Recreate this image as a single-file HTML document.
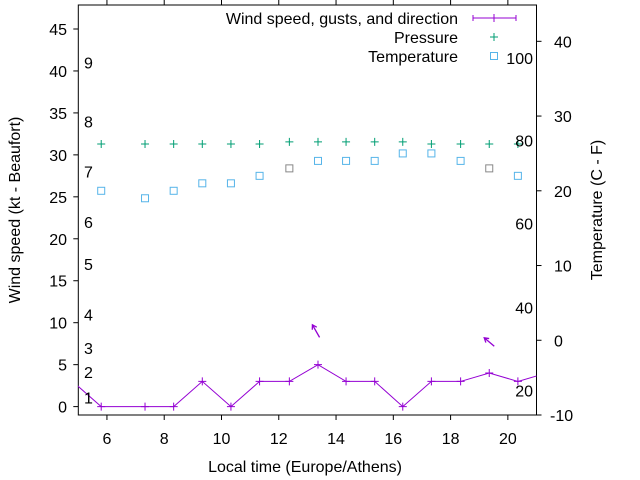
<!DOCTYPE html>
<html><head><meta charset="utf-8"><style>
body{margin:0;background:#fff}
svg{display:block;font-family:"Liberation Sans",sans-serif;font-size:16px}
</style></head><body>
<svg id="chart" width="640" height="480" viewBox="0 0 640 480" xmlns="http://www.w3.org/2000/svg">
<defs><clipPath id="pc"><rect x="78" y="5" width="458.5" height="410"/></clipPath></defs>
<g id="axes"></g>
<g id="marks" clip-path="url(#pc)"></g>
<g id="labels"></g>
</svg>
<script>
const times = [5.8, 7.33, 8.33, 9.33, 10.33, 11.33, 12.37, 13.37, 14.35, 15.35, 16.33, 17.33, 18.35, 19.35, 20.35];
const windSpeed = [0, 0, 0, 3, 0, 3, 3, 5, 3, 3, 0, 3, 3, 4, 3];
const windPrev = [4.8, 3];
const windNext = [21.35, 4];
const pressure = [31.3, 31.3, 31.3, 31.3, 31.3, 31.3, 31.55, 31.55, 31.55, 31.55, 31.55, 31.3, 31.3, 31.3, 31.3];
const temperature = [20, 19, 20, 21, 21, 22, 23, 24, 24, 24, 25, 25, 24, 23, 22];
const tempGray = [false, false, false, false, false, false, true, false, false, false, false, false, false, true, false];
const arrowX = [13.3, 19.35];
const arrowY = [9, 7.7];
const arrowDx = [-0.25, -0.35];
const arrowDy = [1.5, 1.0];
const xTicks = [6, 8, 10, 12, 14, 16, 18, 20];
const yTicks = [0, 5, 10, 15, 20, 25, 30, 35, 40, 45];
const y2Ticks = [-10, 0, 10, 20, 30, 40];
const beaufort = ["1","2","3","4","5","6","7","8","9"];
const beaufortY = [1.1, 4.1, 7, 11, 17, 22, 28, 34, 41];
const fahrenheit = ["20","40","60","80","100"];
const fahrenheitC = [-6.7, 4.4, 15.6, 26.7, 37.8];

const L=78.3, R=536.5, T=5, B=415;
const X = v => L + (v-5)*(R-L)/16;
const Y = v => B - (v+1)*(B-T)/48.86;
const Y2 = v => B - (v+10)*(B-T)/54.86;
const NS="http://www.w3.org/2000/svg";
function mk(tag, attrs, parent, text){
  const e=document.createElementNS(NS,tag);
  for(const k in attrs) e.setAttribute(k,attrs[k]);
  if(text!==undefined) e.textContent=text;
  parent.appendChild(e); return e;
}
const ax=document.getElementById('axes'), mg=document.getElementById('marks'), lb=document.getElementById('labels');

let el=mk('rect',{x:L,y:T,width:R-L,height:B-T,fill:'none',stroke:'#000','stroke-width':1},ax);



xTicks.forEach(t=>{
  let l=mk('line',{x1:X(t),x2:X(t),y1:B,y2:B+5,stroke:'#000'},ax);
  
  
  let l2=mk('line',{x1:X(t),x2:X(t),y1:T,y2:T-5,stroke:'#000'},ax);
  
  
  let tx=mk('text',{x:X(t),y:444,'text-anchor':'middle'},lb,String(t));
  
  
});
yTicks.forEach(t=>{
  let l=mk('line',{x1:L-5,x2:L,y1:Y(t),y2:Y(t),stroke:'#000'},ax);
  
  
  let tx=mk('text',{x:67,y:Y(t)+6,'text-anchor':'end'},lb,String(t));
  
  
});
y2Ticks.forEach(t=>{
  let l=mk('line',{x1:R,x2:R+5,y1:Y2(t),y2:Y2(t),stroke:'#000'},ax);
  
  
  let tx=mk('text',{x:t<0?550:554,y:Y2(t)+6},lb,String(t));
  
  
});
beaufort.forEach((b,i)=>{
  let tx=mk('text',{x:84,y:Y(beaufortY[i])+6},lb,b);
  
  
});
fahrenheit.forEach((f,i)=>{
  let tx=mk('text',{x:533,y:Y2(fahrenheitC[i])+6,'text-anchor':'end'},lb,f);
  
  
});

const wx=[windPrev[0],...times,windNext[0]], wy=[windPrev[1],...windSpeed,windNext[1]];
let pl=mk('polyline',{points:wx.map((t,i)=>X(t)+','+Y(wy[i])).join(' '),fill:'none',stroke:'#9400d3','stroke-width':1},mg);


times.forEach((t,i)=>{
  const x=X(t),y=Y(windSpeed[i]);
  let p=mk('path',{d:`M${x-4},${y}H${x+4}M${x},${y-4}V${y+4}`,stroke:'#9400d3','stroke-width':1},mg);
  
  
});
arrowX.forEach((t,i)=>{
  const x0=X(t-arrowDx[i]/2), y0=Y(arrowY[i]-arrowDy[i]/2), x1=X(t+arrowDx[i]/2), y1=Y(arrowY[i]+arrowDy[i]/2);
  const a=Math.atan2(y1-y0,x1-x0), h=5;
  const d=`M${x0},${y0}L${x1},${y1}M${x1+h*Math.cos(a+2.6)},${y1+h*Math.sin(a+2.6)}L${x1},${y1}L${x1+h*Math.cos(a-2.6)},${y1+h*Math.sin(a-2.6)}`;
  let p=mk('path',{d:d,stroke:'#9400d3','stroke-width':1.3,fill:'none'},mg);
  
  
});
pressure.forEach((v,i)=>{
  const x=X(times[i]),y=Y(v);
  let p=mk('path',{d:`M${x-4},${y}H${x+4}M${x},${y-4}V${y+4}`,stroke:'#009e73','stroke-width':1},mg);
  
  
});
temperature.forEach((v,i)=>{
  const x=X(times[i]),y=Y2(v);
  let p=mk('rect',{x:x-3.5,y:y-3.5,width:7,height:7,fill:'none',stroke:tempGray[i]?'#888':'#56b4e9','stroke-width':1},mg);
  
  
});

const lg=mk('g',{},lb);


[['Wind speed, gusts, and direction',18],['Pressure',37],['Temperature',56]].forEach(([s,y])=>{
  let tx=mk('text',{x:458,y:y+6,'text-anchor':'end'},lg,s);
  
  
});
let ls=mk('path',{d:'M473,18H516M473,15V21M516,15V21M494,14V22',stroke:'#9400d3','stroke-width':1},lg);


ls=mk('path',{d:'M490,37H498M494,33V41',stroke:'#009e73','stroke-width':1},lg);


ls=mk('rect',{x:490.5,y:52.5,width:7,height:7,fill:'none',stroke:'#56b4e9'},lg);



let t1=mk('text',{x:0,y:0,'text-anchor':'middle',transform:'translate(20,210) rotate(-90)'},lb,'Wind speed (kt - Beaufort)');


let t2=mk('text',{x:0,y:0,'text-anchor':'middle',transform:'translate(602,210) rotate(-90)'},lb,'Temperature (C - F)');


let t3=mk('text',{x:305,y:472,'text-anchor':'middle'},lb,'Local time (Europe/Athens)');


</script>
</body></html>
